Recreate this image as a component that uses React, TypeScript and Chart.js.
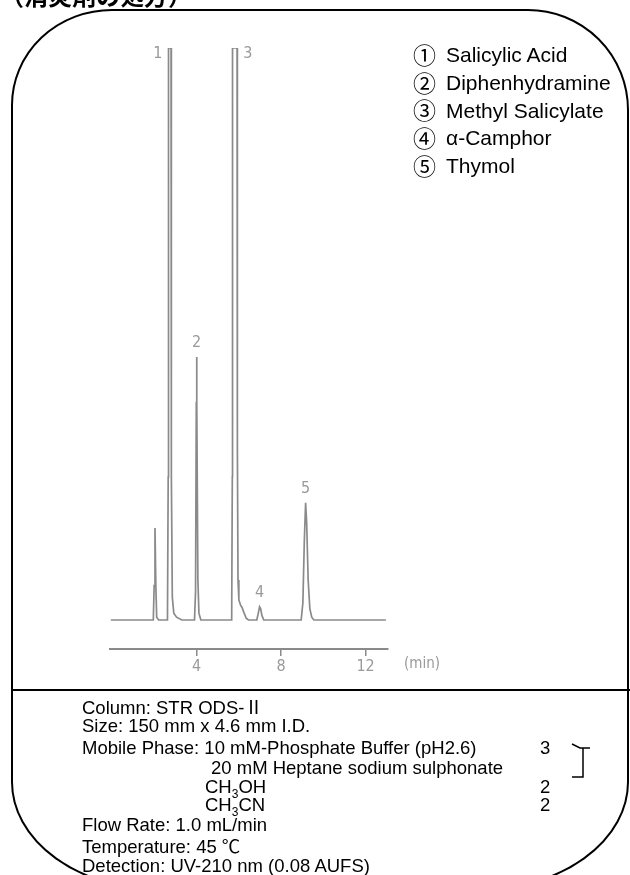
import React, { useEffect, useRef } from 'react';
import { Chart, registerables } from 'chart.js';

Chart.register(...registerables);

// ---- data ----
const traceTimes = [
  -0.06, 1.95, 1.99, 2.03, 2.07, 2.11, 2.2,
  2.62, 2.655, 2.67, 2.79, 2.805, 2.85, 2.92, 3.05, 3.3,
  3.9, 3.95, 3.985, 4.0, 4.015, 4.06, 4.11, 4.2,
  5.66, 5.69, 5.7, 5.915, 5.93, 5.96, 6.0, 6.08, 6.15, 6.25, 6.35, 6.45,
  6.85, 6.92, 6.98, 7.03, 7.09, 7.18,
  8.95, 9.03, 9.1, 9.16, 9.21, 9.28, 9.36, 9.45, 9.55,
  12.96,
];
const traceSignals = [
  0, 0, 6, 16.1, 6, 0.5, 0,
  0, 25, 100, 100, 25, 4, 1.2, 0.5, 0,
  0, 5, 38, 46, 38, 7, 1.2, 0,
  0, 25, 100, 100, 30, 7, 3.5, 2.6, 2.2, 1.2, 0.3, 0,
  0, 1.2, 2.3, 2.0, 0.8, 0,
  0, 3, 14, 20.5, 17, 7, 2, 0.5, 0,
  0,
];
const peakIds = ['1', '2', '3', '4', '5'];
const peakTimes = [2.73, 4.0, 5.81, 6.98, 9.16];
const peakSignals = [100, 46, 100, 2.3, 20.5];
const peakLabelSide = ['left', 'above', 'right', 'above', 'above'];
const compoundMarks = ['①', '②', '③', '④', '⑤'];
const compoundNames = ['Salicylic Acid', 'Diphenhydramine', 'Methyl Salicylate', 'α-Camphor', 'Thymol'];
const xTickValues = [4, 8, 12];
const timeRange = [-0.1, 13.06];
const signalRange = [-5.07, 100];
const timeUnit = '(min)';
const titleText = '（消炎剤の処方）';

const NARROW = '"Liberation Sans Narrow", "DejaVu Sans Condensed", "Liberation Sans", sans-serif';
const SANS = '"Liberation Sans", Arial, "Noto Sans CJK JP", sans-serif';
const CJK = '"Noto Sans CJK JP", "DejaVu Sans", sans-serif';

const peakLabelPlugin = {
  id: 'peakLabels',
  afterDatasetsDraw(chart: any) {
    const { ctx } = chart;
    const xs = chart.scales.x;
    const ys = chart.scales.y;
    ctx.save();
    ctx.fillStyle = '#9a9a9a';
    ctx.font = `16px ${NARROW}`;
    ctx.textAlign = 'center';
    ctx.textBaseline = 'middle';
    peakIds.forEach((id, i) => {
      const px = xs.getPixelForValue(peakTimes[i]);
      const py = ys.getPixelForValue(peakSignals[i]);
      let lx = px;
      let ly = py - 14;
      if (peakLabelSide[i] === 'left') { lx = px - 12; ly = py + 6; }
      if (peakLabelSide[i] === 'right') { lx = px + 13; ly = py + 6; }
      ctx.fillText(id, lx, ly);
    });
    ctx.restore();
  },
};

function Chromatogram() {
  const ref = useRef<HTMLCanvasElement | null>(null);
  useEffect(() => {
    const canvas = ref.current;
    if (!canvas) return;
    const chart = new Chart(canvas, {
      type: 'line',
      data: {
        datasets: [
          {
            data: traceTimes.map((t, i) => ({ x: t, y: traceSignals[i] })),
            borderColor: '#8a8a8a',
            borderWidth: 1.7,
            pointRadius: 0,
            tension: 0,
            fill: false,
          },
        ],
      },
      options: {
        responsive: false,
        animation: false,
        devicePixelRatio: 1,
        layout: { padding: { left: 110, right: 242, top: 48, bottom: 21 } },
        plugins: {
          legend: { display: false },
          tooltip: { enabled: false },
          title: { display: false },
        },
        scales: {
          x: {
            type: 'linear',
            min: timeRange[0],
            max: timeRange[1],
            afterBuildTicks: (axis: any) => {
              axis.ticks = xTickValues.map((v) => ({ value: v }));
            },
            afterFit: (axis: any) => {
              axis.height = 30;
            },
            border: { display: true, color: '#8a8a8a', width: 2 },
            grid: {
              display: true,
              drawOnChartArea: false,
              drawTicks: true,
              tickLength: 7,
              color: '#8a8a8a',
              lineWidth: 1.5,
            },
            ticks: {
              color: '#9a9a9a',
              padding: 1,
              autoSkip: false,
              maxRotation: 0,
              font: { family: NARROW, size: 16 },
              callback: (v: any) => String(v),
            },
          },
          y: { type: 'linear', display: false, min: signalRange[0], max: signalRange[1] },
        },
      } as any,
      plugins: [peakLabelPlugin],
    });
    return () => chart.destroy();
  }, []);
  return (
    <canvas
      ref={ref}
      width={630}
      height={700}
      style={{ position: 'absolute', left: 0, top: 0, width: 630, height: 700 }}
    />
  );
}

const infoBaselines = [713.5, 731.5, 753.5, 773.5, 792.5, 810.5, 830.5, 852.5, 871.5];
const legendBaselines = [62, 90, 117.5, 145, 173];

export default function App() {
  const fs = 18.5;
  return (
    <div
      style={{
        position: 'absolute',
        left: 0,
        top: 0,
        width: 630,
        height: 875,
        overflow: 'hidden',
        background: '#fff',
      }}
    >
      <Chromatogram />
      <svg
        width={630}
        height={875}
        style={{ position: 'absolute', left: 0, top: 0, pointerEvents: 'none' }}
      >
        <text x={0} y={5} fontFamily={CJK} fontWeight="bold" fontSize={24} fill="#000">
          {titleText}
        </text>
        <path
          d="M112,10 L528,10 A100,100 0 0 1 628,110 L628,782 A150,108 0 0 1 478,890 L162,890 A150,108 0 0 1 12,782 L12,105 A100,95 0 0 1 112,10 Z"
          fill="none"
          stroke="#000"
          strokeWidth={2}
        />
        <line x1={12} y1={690} x2={630} y2={690} stroke="#000" strokeWidth={2} />

        {compoundNames.map((name, i) => (
          <g key={name}>
            <text x={413} y={legendBaselines[i] + 1.5} fontFamily={CJK} fontSize={23} fill="#000">
              {compoundMarks[i]}
            </text>
            <text x={446} y={legendBaselines[i]} fontFamily={SANS} fontSize={21} fill="#000">
              {name}
            </text>
          </g>
        ))}

        <text x={404} y={668} fontFamily={NARROW} fontSize={15} fill="#9a9a9a">
          {timeUnit}
        </text>

        <g fontFamily={SANS} fontSize={fs} fill="#000">
          <text x={82} y={infoBaselines[0]}>Column: STR ODS-Ⅱ</text>
          <text x={82} y={infoBaselines[1]}>Size: 150 mm x 4.6 mm I.D.</text>
          <text x={82} y={infoBaselines[2]}>Mobile Phase: 10 mM-Phosphate Buffer (pH2.6)</text>
          <text x={540} y={infoBaselines[2]}>3</text>
          <text x={211} y={infoBaselines[3]}>20 mM Heptane sodium sulphonate</text>
          <text x={205} y={infoBaselines[4]}>
            CH<tspan fontSize={12} dy={5}>3</tspan><tspan dy={-5}>OH</tspan>
          </text>
          <text x={540} y={infoBaselines[4]}>2</text>
          <text x={205} y={infoBaselines[5]}>
            CH<tspan fontSize={12} dy={5}>3</tspan><tspan dy={-5}>CN</tspan>
          </text>
          <text x={540} y={infoBaselines[5]}>2</text>
          <text x={82} y={infoBaselines[6]}>Flow Rate: 1.0 mL/min</text>
          <text x={82} y={infoBaselines[7]}>Temperature: 45 ℃</text>
          <text x={82} y={infoBaselines[8]}>Detection: UV-210 nm (0.08 AUFS)</text>
        </g>
        <path
          d="M572,744 L580,748 L590,748 M583,748 L583,777 L572,777"
          fill="none"
          stroke="#000"
          strokeWidth={1.5}
        />
      </svg>
    </div>
  );
}
